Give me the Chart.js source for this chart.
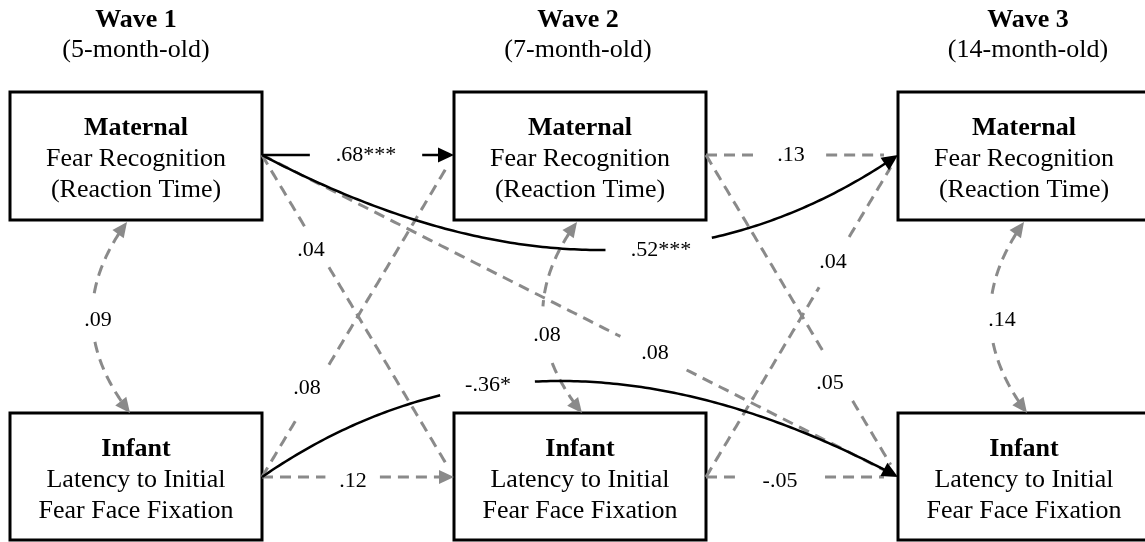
<!DOCTYPE html>
<html><head><meta charset="utf-8">
<script src="https://cdn.jsdelivr.net/npm/chart.js@4"></script>
<style>html,body{margin:0;padding:0;background:#fff;overflow:hidden}canvas{display:block}</style>
</head><body>
<canvas id="c" width="1145" height="542"></canvas>
<script>
// ---------------- data ----------------
const waveTitles = ['Wave 1', 'Wave 2', 'Wave 3'];
const waveAges = ['(5-month-old)', '(7-month-old)', '(14-month-old)'];
const constructTitles = ['Maternal', 'Infant'];
const constructLines = [['Fear Recognition', '(Reaction Time)'], ['Latency to Initial', 'Fear Face Fixation']];
// paths: [row, wave] -> [row, wave]   (row 0 = maternal, row 1 = infant)
const pathFrom = [[0,0],[0,1],[0,0],[1,0],[0,0],[0,0],[1,0],[1,0],[0,1],[1,1],[1,1]];
const pathTo   = [[0,1],[0,2],[0,2],[1,2],[1,1],[1,2],[0,1],[1,1],[1,2],[0,2],[1,2]];
const pathCoef = ['.68***', '.13', '.52***', '-.36*', '.04', '.08', '.08', '.12', '.05', '.04', '-.05'];
// within-wave correlations (maternal <-> infant)
const corrCoef = ['.09', '.08', '.14'];

// ---------------- layout ----------------
const L = {
  boxLeft: [10, 454, 898], boxW: 252,
  rowTop: [92, 413], rowBottom: [220, 540],
  anchorY: [155, 477],
  headerX: [136, 578, 1028], headerY: [27, 57],
  pathCtrl: [null, null, [621, 345], [540, 285], null, null, null, null, null, null, null],
  pathLabel: [[366,155],[791,155],[661,250],[488,385],[311,250],[655,353],[307,388],[353,481],[830,383],[833,262],[780,481]],
  pathGap: [56, 35, 52, 46, 24, 35, 32, 27, 27, 28, 45],
  corrStart: [[127,222],[577,222],[1024,222]],
  corrEnd: [[130,413],[582,413],[1027,413]],
  corrCtrl: [[56,318],[506,318],[955,318]],
  corrLabel: [[98,320],[547,335],[1002,320]],
  corrGap: [22, 28, 24],
};
const GRAY = '#8a8a8a', BLACK = '#000';
const FONT = "'Liberation Serif','Times New Roman',serif";
const isSig = c => /\*/.test(c);

function startPt(i){ const [r,w] = pathFrom[i]; return [L.boxLeft[w] + L.boxW, L.anchorY[r]]; }
function endPt(i){ const [r,w] = pathTo[i]; return [L.boxLeft[w], L.anchorY[r]]; }
function quad(p0, c, p2, t){
  if (!c) return [p0[0] + (p2[0]-p0[0])*t, p0[1] + (p2[1]-p0[1])*t];
  const u = 1-t;
  return [u*u*p0[0] + 2*u*t*c[0] + t*t*p2[0], u*u*p0[1] + 2*u*t*c[1] + t*t*p2[1]];
}
function dist(a,b){ return Math.hypot(a[0]-b[0], a[1]-b[1]); }
function trimT(f, tip, h, fromEnd){
  // find parameter where curve is h away from tip
  if (fromEnd){ for (let t=1; t>0; t-=0.001){ if (dist(f(t),tip) >= h) return t; } return 0.9; }
  for (let t=0; t<1; t+=0.001){ if (dist(f(t),tip) >= h) return t; } return 0.1;
}
function sample(f, t0, t1, label, gap){
  const pts = []; const N = 160;
  let prevGap = false;
  for (let k=0; k<=N; k++){
    const t = t0 + (t1-t0)*k/N; const p = f(t);
    const inGap = dist(p, label) < gap;
    if (inGap){ if (!prevGap) pts.push({x:p[0], y:null}); }
    else pts.push({x:p[0], y:p[1]});
    prevGap = inGap;
  }
  return pts;
}
const HEAD = 15;
const datasets = [];
// paths
pathCoef.forEach((c, i) => {
  const p0 = startPt(i), p2 = endPt(i), ctrl = L.pathCtrl[i];
  const f = t => quad(p0, ctrl, p2, t);
  const t1 = trimT(f, p2, HEAD - 1, true);
  const sig = isSig(c);
  datasets.push({
    data: sample(f, 0, t1, L.pathLabel[i], L.pathGap[i]),
    showLine: true, pointRadius: 0, tension: 0, spanGaps: false,
    borderColor: sig ? BLACK : GRAY, borderWidth: sig ? 2.5 : 3,
    borderDash: sig ? [] : [11, 7], borderCapStyle: 'butt'
  });
});
// correlations
corrCoef.forEach((c, i) => {
  const p0 = L.corrStart[i], p2 = L.corrEnd[i], ctrl = L.corrCtrl[i];
  const f = t => quad(p0, ctrl, p2, t);
  const t0 = trimT(f, p0, HEAD - 1, false), t1 = trimT(f, p2, HEAD - 1, true);
  datasets.push({
    data: sample(f, t0, t1, L.corrLabel[i], L.corrGap[i]),
    showLine: true, pointRadius: 0, tension: 0, spanGaps: false,
    borderColor: GRAY, borderWidth: 3, borderDash: [11, 7], borderCapStyle: 'butt'
  });
});
// boxes
for (let r=0; r<2; r++) for (let w=0; w<3; w++){
  const l = L.boxLeft[w], rt = l + L.boxW, t = L.rowTop[r], b = L.rowBottom[r];
  datasets.push({
    data: [{x:l,y:t},{x:rt,y:t},{x:rt,y:b},{x:l,y:b},{x:l,y:t},{x:rt,y:t}],
    showLine: true, pointRadius: 0, tension: 0, borderColor: BLACK, borderWidth: 3,
    borderJoinStyle: 'miter'
  });
}

// heads: one per target anchor; significant path wins, else same-row path
function headsList(){
  const byTarget = {};
  pathCoef.forEach((c, i) => {
    const key = pathTo[i].join('-');
    const sameRow = pathFrom[i][0] === pathTo[i][0];
    const score = (isSig(c) ? 2 : 0) + (sameRow ? 1 : 0);
    if (!byTarget[key] || byTarget[key].score < score) byTarget[key] = {i, score};
  });
  const list = [];
  Object.values(byTarget).forEach(({i}) => {
    const p2 = endPt(i), ctrl = L.pathCtrl[i] || startPt(i);
    list.push({tip: p2, from: ctrl, color: isSig(pathCoef[i]) ? BLACK : GRAY, big: isSig(pathCoef[i])});
  });
  corrCoef.forEach((c, i) => {
    list.push({tip: L.corrStart[i], from: L.corrCtrl[i], color: GRAY});
    list.push({tip: L.corrEnd[i], from: L.corrCtrl[i], color: GRAY});
  });
  return list;
}

const diagram = {
  id: 'diagram',
  afterDatasetsDraw(chart){
    const ctx = chart.ctx, sx = chart.scales.x, sy = chart.scales.y;
    const X = v => sx.getPixelForValue(v), Y = v => sy.getPixelForValue(v);
    ctx.save();
    // arrow heads
    headsList().forEach(h => {
      const tx = X(h.tip[0]), ty = Y(h.tip[1]);
      const fx = X(h.from[0]), fy = Y(h.from[1]);
      const d = Math.hypot(tx-fx, ty-fy), ux = (tx-fx)/d, uy = (ty-fy)/d;
      const len = h.big ? 16 : 15, hw = h.big ? 7.5 : 7;
      const bx = tx - ux*len, by = ty - uy*len;
      ctx.beginPath();
      ctx.moveTo(tx, ty);
      ctx.lineTo(bx - uy*hw, by + ux*hw);
      ctx.lineTo(bx + uy*hw, by - ux*hw);
      ctx.closePath();
      ctx.fillStyle = h.color; ctx.fill();
    });
    // coefficient labels
    ctx.fillStyle = '#000';
    ctx.font = '22px ' + FONT;
    ctx.textAlign = 'center'; ctx.textBaseline = 'middle';
    pathCoef.forEach((c, i) => ctx.fillText(c, X(L.pathLabel[i][0]), Y(L.pathLabel[i][1])));
    corrCoef.forEach((c, i) => ctx.fillText(c, X(L.corrLabel[i][0]), Y(L.corrLabel[i][1])));
    // headers
    ctx.textBaseline = 'alphabetic';
    waveTitles.forEach((t, w) => {
      ctx.font = 'bold 26px ' + FONT; ctx.fillText(t, X(L.headerX[w]), Y(L.headerY[0]));
      ctx.font = '26px ' + FONT; ctx.fillText(waveAges[w], X(L.headerX[w]), Y(L.headerY[1]));
    });
    // box texts
    for (let r=0; r<2; r++) for (let w=0; w<3; w++){
      const cx = L.boxLeft[w] + L.boxW/2, cy = (L.rowTop[r] + L.rowBottom[r])/2;
      ctx.font = 'bold 26px ' + FONT; ctx.fillText(constructTitles[r], X(cx), Y(cy - 21));
      ctx.font = '26px ' + FONT;
      ctx.fillText(constructLines[r][0], X(cx), Y(cy + 10));
      ctx.fillText(constructLines[r][1], X(cx), Y(cy + 41));
    }
    ctx.restore();
  }
};

new Chart(document.getElementById('c'), {
  type: 'scatter',
  data: { datasets },
  options: {
    responsive: false, animation: false, events: [],
    layout: { padding: 0 },
    plugins: { legend: { display: false }, tooltip: { enabled: false } },
    scales: {
      x: { type: 'linear', min: 0, max: 1145, display: false },
      y: { type: 'linear', min: 0, max: 542, reverse: true, display: false }
    }
  },
  plugins: [diagram]
});
</script>
</body></html>
